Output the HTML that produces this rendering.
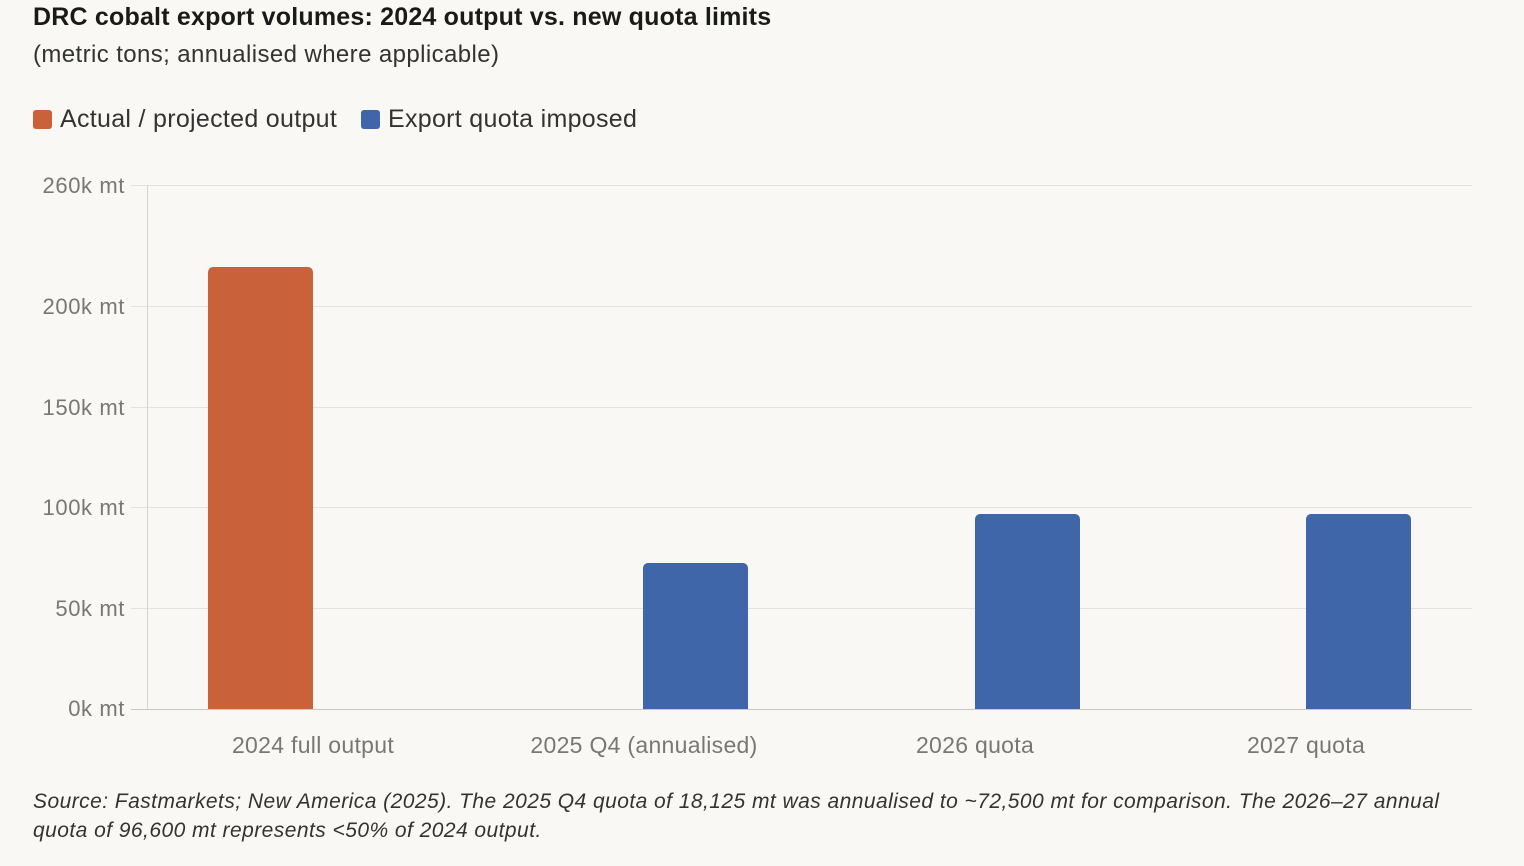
<!DOCTYPE html>
<html><head><meta charset="utf-8"><style>
html,body{margin:0;padding:0;background:#f9f8f4;}
body{width:1524px;height:866px;overflow:hidden;position:relative;font-family:"Liberation Sans",sans-serif;}
.t{position:absolute;left:33px;top:3px;font-size:25px;font-weight:bold;color:#1a1a1a;letter-spacing:0.2px;white-space:nowrap;}
.s{position:absolute;left:33px;top:41px;font-size:24px;color:#333;letter-spacing:0.4px;white-space:nowrap;}
.lg{position:absolute;top:105px;font-size:25px;color:#333;letter-spacing:0.3px;white-space:nowrap;}
.sw{display:inline-block;width:19px;height:19px;border-radius:3px;vertical-align:-2px;margin-right:8px;}
.f{position:absolute;left:33px;top:787px;font-size:21px;font-style:italic;color:#333;line-height:29px;width:1440px;letter-spacing:0.45px;}
</style></head><body>
<div class="t">DRC cobalt export volumes: 2024 output vs. new quota limits</div>
<div class="s">(metric tons; annualised where applicable)</div>
<div class="lg" style="left:33px"><span class="sw" style="background:#c9613b"></span>Actual / projected output</div>
<div class="lg" style="left:361px"><span class="sw" style="background:#3f66a9"></span>Export quota imposed</div>
<svg width="1524" height="866" style="position:absolute;left:0;top:0" font-family="Liberation Sans, sans-serif">
<g stroke="#e4e2dd" stroke-width="1">
<line x1="131" x2="1472" y1="185.5" y2="185.5"/>
<line x1="131" x2="1472" y1="306.5" y2="306.5"/>
<line x1="131" x2="1472" y1="407.5" y2="407.5"/>
<line x1="131" x2="1472" y1="507.5" y2="507.5"/>
<line x1="131" x2="1472" y1="608.5" y2="608.5"/>
</g>
<line x1="147.5" x2="147.5" y1="185" y2="709" stroke="#d6d4cf"/>
<line x1="131" x2="1472" y1="709.5" y2="709.5" stroke="#c9c7c2"/>
<g font-size="22" fill="#777" text-anchor="end" letter-spacing="0.6">
<text x="125" y="193">260k mt</text>
<text x="125" y="314">200k mt</text>
<text x="125" y="415">150k mt</text>
<text x="125" y="515">100k mt</text>
<text x="125" y="616">50k mt</text>
<text x="125" y="716">0k mt</text>
</g>
<path d="M208 709V272a5 5 0 0 1 5-5h95a5 5 0 0 1 5 5V709Z" fill="#c9613b"/>
<path d="M643 709V568a5 5 0 0 1 5-5h95a5 5 0 0 1 5 5V709Z" fill="#3f66a9"/>
<path d="M975 709V519a5 5 0 0 1 5-5h95a5 5 0 0 1 5 5V709Z" fill="#3f66a9"/>
<path d="M1306 709V519a5 5 0 0 1 5-5h95a5 5 0 0 1 5 5V709Z" fill="#3f66a9"/>
<g font-size="23" fill="#777" text-anchor="middle" letter-spacing="0.3">
<text x="313" y="753">2024 full output</text>
<text x="644" y="753">2025 Q4 (annualised)</text>
<text x="975" y="753">2026 quota</text>
<text x="1306" y="753">2027 quota</text>
</g>
</svg>
<div class="f">Source: Fastmarkets; New America (2025). The 2025 Q4 quota of 18,125 mt was annualised to ~72,500 mt for comparison. The 2026–27 annual quota of 96,600 mt represents &lt;50% of 2024 output.</div>
</body></html>
